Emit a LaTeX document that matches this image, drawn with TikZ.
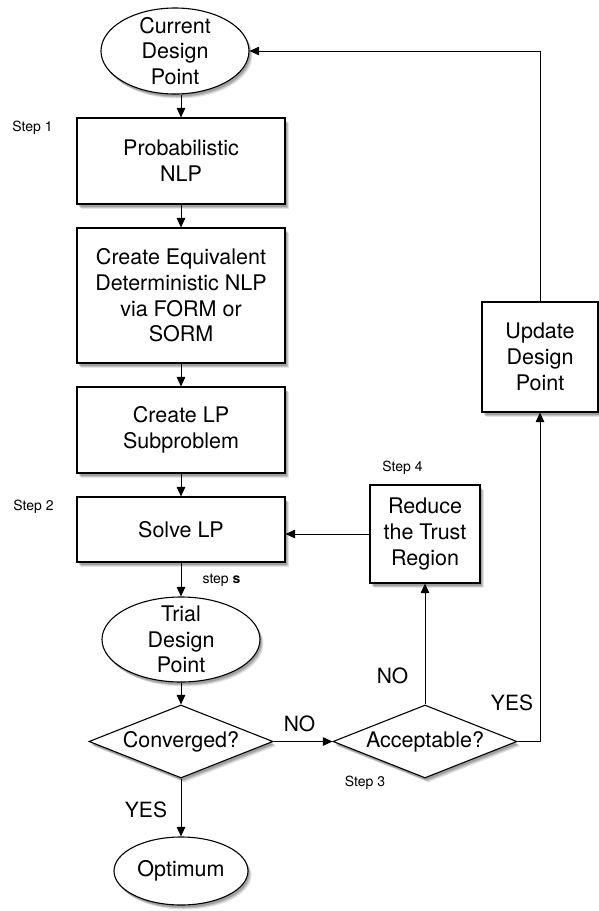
\documentclass[tikz,border=0pt]{standalone}
\usepackage{fontspec}
\setmainfont{TeX Gyre Heros}
\usetikzlibrary{shapes.geometric,shadows,arrows.meta}
\begin{document}
\begin{tikzpicture}[x=1pt,y=-1pt,
  shad/.style={
    drop shadow={shadow xshift=1.5pt,shadow yshift=-2.5pt,opacity=0.18,fill=black},
    drop shadow={shadow xshift=2.5pt,shadow yshift=-3.5pt,opacity=0.15,fill=black},
    drop shadow={shadow xshift=3.5pt,shadow yshift=-4.5pt,opacity=0.10,fill=black}},
  boxnode/.style={draw,line width=1.1pt,fill=white,shad,rectangle,inner sep=0pt,align=center,
     font=\fontsize{21.5}{25.7}\selectfont},
  ellnode/.style={draw,line width=1.1pt,fill=white,shad,ellipse,inner xsep=0pt,inner ysep=-12pt,align=center,
     font=\fontsize{21.5}{25.7}\selectfont},
  dianode/.style={draw,line width=1.1pt,fill=white,shad,diamond,aspect=2.5,inner sep=0pt,
     minimum width=184pt,minimum height=73pt,font=\fontsize{21.5}{25.7}\selectfont},
  smalllab/.style={font=\fontsize{14}{16}\selectfont,inner sep=0pt},
  biglab/.style={font=\fontsize{21}{25}\selectfont,inner sep=0pt},
  arr/.style={line width=0.9pt,-{Triangle[length=9.5pt,width=8.5pt]}},
  ln/.style={line width=0.9pt}]
\useasboundingbox (0,0) rectangle (598,911);

\node[ellnode,minimum width=148pt,minimum height=86pt] (cur) at (175,51) {Current\\Design\\Point};
\node[boxnode,minimum width=208pt,minimum height=86pt] (p1) at (181,161) {Probabilistic\\NLP};
\node[boxnode,minimum width=208pt,minimum height=135pt] (p2) at (181,295.5) {Create Equivalent\\Deterministic NLP\\via FORM or\\SORM};
\node[boxnode,minimum width=208pt,minimum height=86pt] (p3) at (181,430) {Create LP\\Subproblem};
\node[boxnode,minimum width=208pt,minimum height=65pt] (solve) at (181,529.5) {Solve LP};
\node[ellnode,minimum width=158pt,minimum height=85pt] (trial) at (181,639.5) {Trial\\Design\\Point};
\node[dianode] (conv) at (181,741.5) {Converged?};
\node[ellnode,minimum width=134pt,minimum height=68pt,inner ysep=0pt] (opt) at (181,871) {Optimum};
\node[dianode] (acc) at (425,741.5) {Acceptable?};
\node[boxnode,minimum width=110pt,minimum height=98pt] (red) at (425,534) {Reduce\\the Trust\\Region};
\node[boxnode,minimum width=116pt,minimum height=110pt] (upd) at (540,357) {Update\\Design\\Point};

\node[smalllab] (s1) at (32.5,128) {Step 1};
\node[smalllab] (s2) at (33.5,507) {Step 2};
\node[smalllab] (s4) at (402.5,468) {Step 4};
\node[smalllab] (s3) at (365,783) {Step 3};
\node[smalllab] (ss) at (221.5,580) {step \textbf{s}};
\node[biglab] (yes1) at (146,810) {YES};
\node[biglab] (no1) at (299.5,724) {NO};
\node[biglab] (no2) at (392.5,676) {NO};
\node[biglab] (yes2) at (512,703) {YES};

\draw[arr] (p1.north |- cur.south) -- (p1.north);
\draw[arr] (p1) -- (p2);
\draw[arr] (p2) -- (p3);
\draw[arr] (p3) -- (solve);
\draw[arr] (solve) -- (trial);
\draw[arr] (trial) -- (conv);
\draw[arr] (conv) -- (opt);
\draw[arr] (conv) -- (acc);
\draw[arr] (acc) -- (red);
\draw[arr] (red.west) -- (red.west -| solve.east);
\draw[arr] (acc.east) -| (upd.south);
\draw[arr] (upd.north) |- (cur.east);
\end{tikzpicture}
\end{document}
